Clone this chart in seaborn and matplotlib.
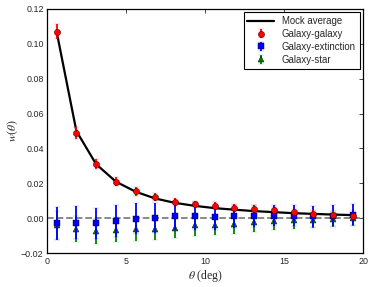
import matplotlib
matplotlib.use('Agg')
import matplotlib.pyplot as plt
import seaborn as sns
import numpy as np
import pandas as pd

# data
theta = [0.6, 1.85, 3.1, 4.35, 5.6, 6.85, 8.1, 9.35, 10.6, 11.85, 13.1, 14.35, 15.6, 16.85, 18.1, 19.35]
mock_avg = [0.107, 0.050, 0.031, 0.021, 0.0152, 0.0113, 0.0088, 0.0071, 0.0058, 0.0049,
            0.0041, 0.0035, 0.0029, 0.0025, 0.0021, 0.0018]
gg = [0.107, 0.049, 0.031, 0.021, 0.0155, 0.012, 0.0095, 0.0080, 0.0072, 0.0060,
      0.0055, 0.0045, 0.0035, 0.0025, 0.0020, 0.0012]
gg_err = [0.0042, 0.0035, 0.0028, 0.0025, 0.0025, 0.0023, 0.0022, 0.0020, 0.0020, 0.0020,
          0.0020, 0.0020, 0.0020, 0.0020, 0.0020, 0.0020]
ge = [-0.0030, -0.0025, -0.0030, -0.0015, -0.0002, 0.0000, 0.0010, 0.0015, 0.0005, 0.0010,
      0.0012, 0.0015, 0.0015, 0.0010, 0.0015, 0.0020]
ge_err = [0.0095, 0.0095, 0.0090, 0.0090, 0.0088, 0.0085, 0.0080, 0.0080, 0.0070, 0.0065,
          0.0065, 0.0060, 0.0060, 0.0060, 0.0060, 0.0060]
gs = [-0.0040, -0.0060, -0.0075, -0.0065, -0.0060, -0.0060, -0.0055, -0.0040, -0.0040, -0.0035,
      -0.0022, -0.0018, -0.0012, -0.0008, -0.0005, 0.0000]
gs_err = [0.0080, 0.0075, 0.0070, 0.0070, 0.0068, 0.0065, 0.0060, 0.0060, 0.0058, 0.0055,
          0.0055, 0.0052, 0.0050, 0.0048, 0.0045, 0.0045]
yticks = [-0.02, 0.0, 0.02, 0.04, 0.06, 0.08, 0.10, 0.12]

df = pd.DataFrame({'theta': theta, 'mock': mock_avg})

sns.set_style('white')
plt.rcParams['font.family'] = ['Liberation Sans', 'DejaVu Sans']
plt.rcParams['mathtext.fontset'] = 'stix'

fig, ax = plt.subplots(figsize=(3.74, 2.87), dpi=100)

ax.axhline(0, color='gray', ls='--', lw=1.3, zorder=1)
sns.lineplot(data=df, x='theta', y='mock', color='black', lw=1.6, ax=ax,
             label='Mock average', zorder=2)

eb_kw = dict(ls='none', ms=4.5, capsize=2.2, elinewidth=1.3, capthick=0.9, mec='black', mew=0.3)
c1 = ax.errorbar(theta, gg, yerr=gg_err, fmt='o', color='red', label='Galaxy-galaxy', zorder=5, **eb_kw)
c2 = ax.errorbar(theta, ge, yerr=ge_err, fmt='s', color='blue', label='Galaxy-extinction', zorder=4, **eb_kw)
c3 = ax.errorbar(theta, gs, yerr=gs_err, fmt='^', color='green', label='Galaxy-star', zorder=3, **eb_kw)
for cont in (c1, c2, c3):
    for cap in cont[1]:
        cap.set_alpha(0.45)

ax.set_xlim(0, 20)
ax.set_ylim(-0.02, 0.12)
ax.set_xticks([0, 5, 10, 15, 20])
ax.set_yticks(yticks)
ax.set_yticklabels([('\u2212%.2f' % -v) if v < 0 else '%.2f' % v for v in yticks])
ax.tick_params(direction='in', length=3, width=0.6, labelsize=6.4, top=True, right=True, pad=2.5)
for s in ax.spines.values():
    s.set_color('black')
    s.set_linewidth(0.9)

ax.set_xlabel(r'$\theta$ (deg)', fontsize=8.5, family='Liberation Serif', labelpad=2)
ax.set_ylabel(r'$w(\theta)$', fontsize=8.5, family='Liberation Serif', labelpad=1)

leg = ax.legend(loc='upper right', fontsize=6.9, frameon=True, fancybox=False,
                edgecolor='black', framealpha=1, borderpad=0.4, handlelength=2.8,
                labelspacing=0.3, borderaxespad=0.35, handletextpad=0.8)
leg.get_frame().set_linewidth(0.8)

plt.subplots_adjust(left=0.126, right=0.971, top=0.969, bottom=0.118)
plt.savefig('out.png', dpi=100)
plt.close()
